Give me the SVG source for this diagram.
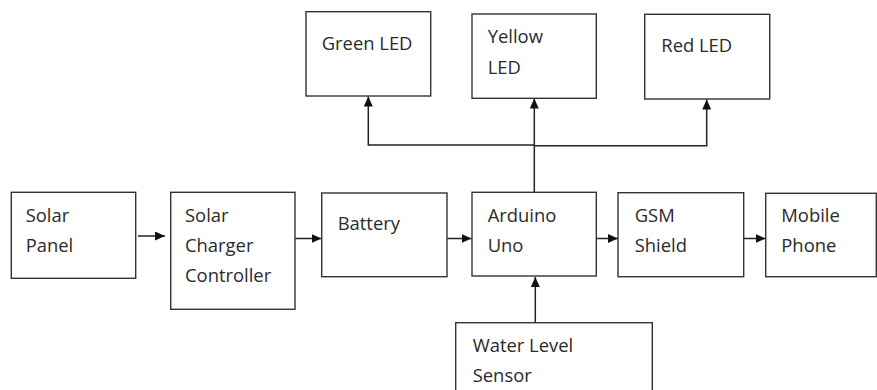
<svg xmlns="http://www.w3.org/2000/svg" width="877" height="390" viewBox="0 0 877 390">
<style>
.box{fill:#fff;stroke:#333;stroke-width:1.4}
.t{font-family:"Open Sans","Liberation Sans",sans-serif;font-size:18.4px;fill:#2a2a2a}
.c{fill:none;stroke:#222;stroke-width:1.5}
</style>
<defs>
<marker id="ah" viewBox="0 0 10 10" refX="10" refY="5" markerWidth="10" markerHeight="9" markerUnits="userSpaceOnUse" orient="auto" preserveAspectRatio="none">
<path d="M0,0 L10,5 L0,10 z" fill="#111"/>
</marker>
</defs>
<rect width="877" height="390" fill="#fff"/>
<g id="connectors">
<line class="c" x1="138" y1="236" x2="165" y2="236" marker-end="url(#ah)"/>
<line class="c" x1="295" y1="238.5" x2="321.5" y2="238.5" marker-end="url(#ah)"/>
<line class="c" x1="447" y1="238.5" x2="471.5" y2="238.5" marker-end="url(#ah)"/>
<line class="c" x1="596.5" y1="238.5" x2="618" y2="238.5" marker-end="url(#ah)"/>
<line class="c" x1="743.5" y1="238.5" x2="765.5" y2="238.5" marker-end="url(#ah)"/>
<line class="c" x1="535.3" y1="322.5" x2="535.3" y2="277" marker-end="url(#ah)"/>
<line class="c" x1="534.3" y1="192.3" x2="534.3" y2="98.5" marker-end="url(#ah)"/>
<polyline class="c" points="534.3,145 368.3,145 368.3,96.5" marker-end="url(#ah)"/>
<polyline class="c" points="534.3,145.7 706.7,145.7 706.7,99.5" marker-end="url(#ah)"/>
</g>
<g id="green-led"><rect class="box" x="306" y="11.7" width="124.7" height="84.3"/><text class="t" x="321.7" y="50">Green LED</text></g>
<g id="yellow-led"><rect class="box" x="472" y="14" width="124.3" height="84.3"/><text class="t" x="487.7" y="43">Yellow</text><text class="t" x="487.7" y="74">LED</text></g>
<g id="red-led"><rect class="box" x="644.7" y="14.3" width="125" height="84.7"/><text class="t" x="661.3" y="52">Red LED</text></g>
<g id="solar-panel"><rect class="box" x="11.3" y="192.3" width="124.4" height="86"/><text class="t" x="25.7" y="221.7">Solar</text><text class="t" x="25.7" y="251.7">Panel</text></g>
<g id="solar-charger-controller"><rect class="box" x="170.7" y="192.3" width="124.3" height="117"/><text class="t" x="185" y="221.7">Solar</text><text class="t" x="185" y="251.7">Charger</text><text class="t" x="185" y="282.3">Controller</text></g>
<g id="battery"><rect class="box" x="321.7" y="193" width="125.3" height="83.7"/><text class="t" x="337.7" y="230">Battery</text></g>
<g id="arduino-uno"><rect class="box" x="472" y="192.3" width="124.3" height="83.7"/><text class="t" x="487.7" y="221.7">Arduino</text><text class="t" x="487.7" y="251.7">Uno</text></g>
<g id="gsm-shield"><rect class="box" x="618" y="192.7" width="125.7" height="84"/><text class="t" x="634.7" y="222.3">GSM</text><text class="t" x="634.7" y="252.3">Shield</text></g>
<g id="mobile-phone"><rect class="box" x="765.7" y="193.3" width="110.6" height="83.4"/><text class="t" x="781.3" y="222.3">Mobile</text><text class="t" x="781.3" y="252.3">Phone</text></g>
<g id="water-level-sensor"><rect class="box" x="455.7" y="322.7" width="196.6" height="80"/><text class="t" x="472.7" y="351.7">Water Level</text><text class="t" x="472.7" y="381.7">Sensor</text></g>
</svg>
